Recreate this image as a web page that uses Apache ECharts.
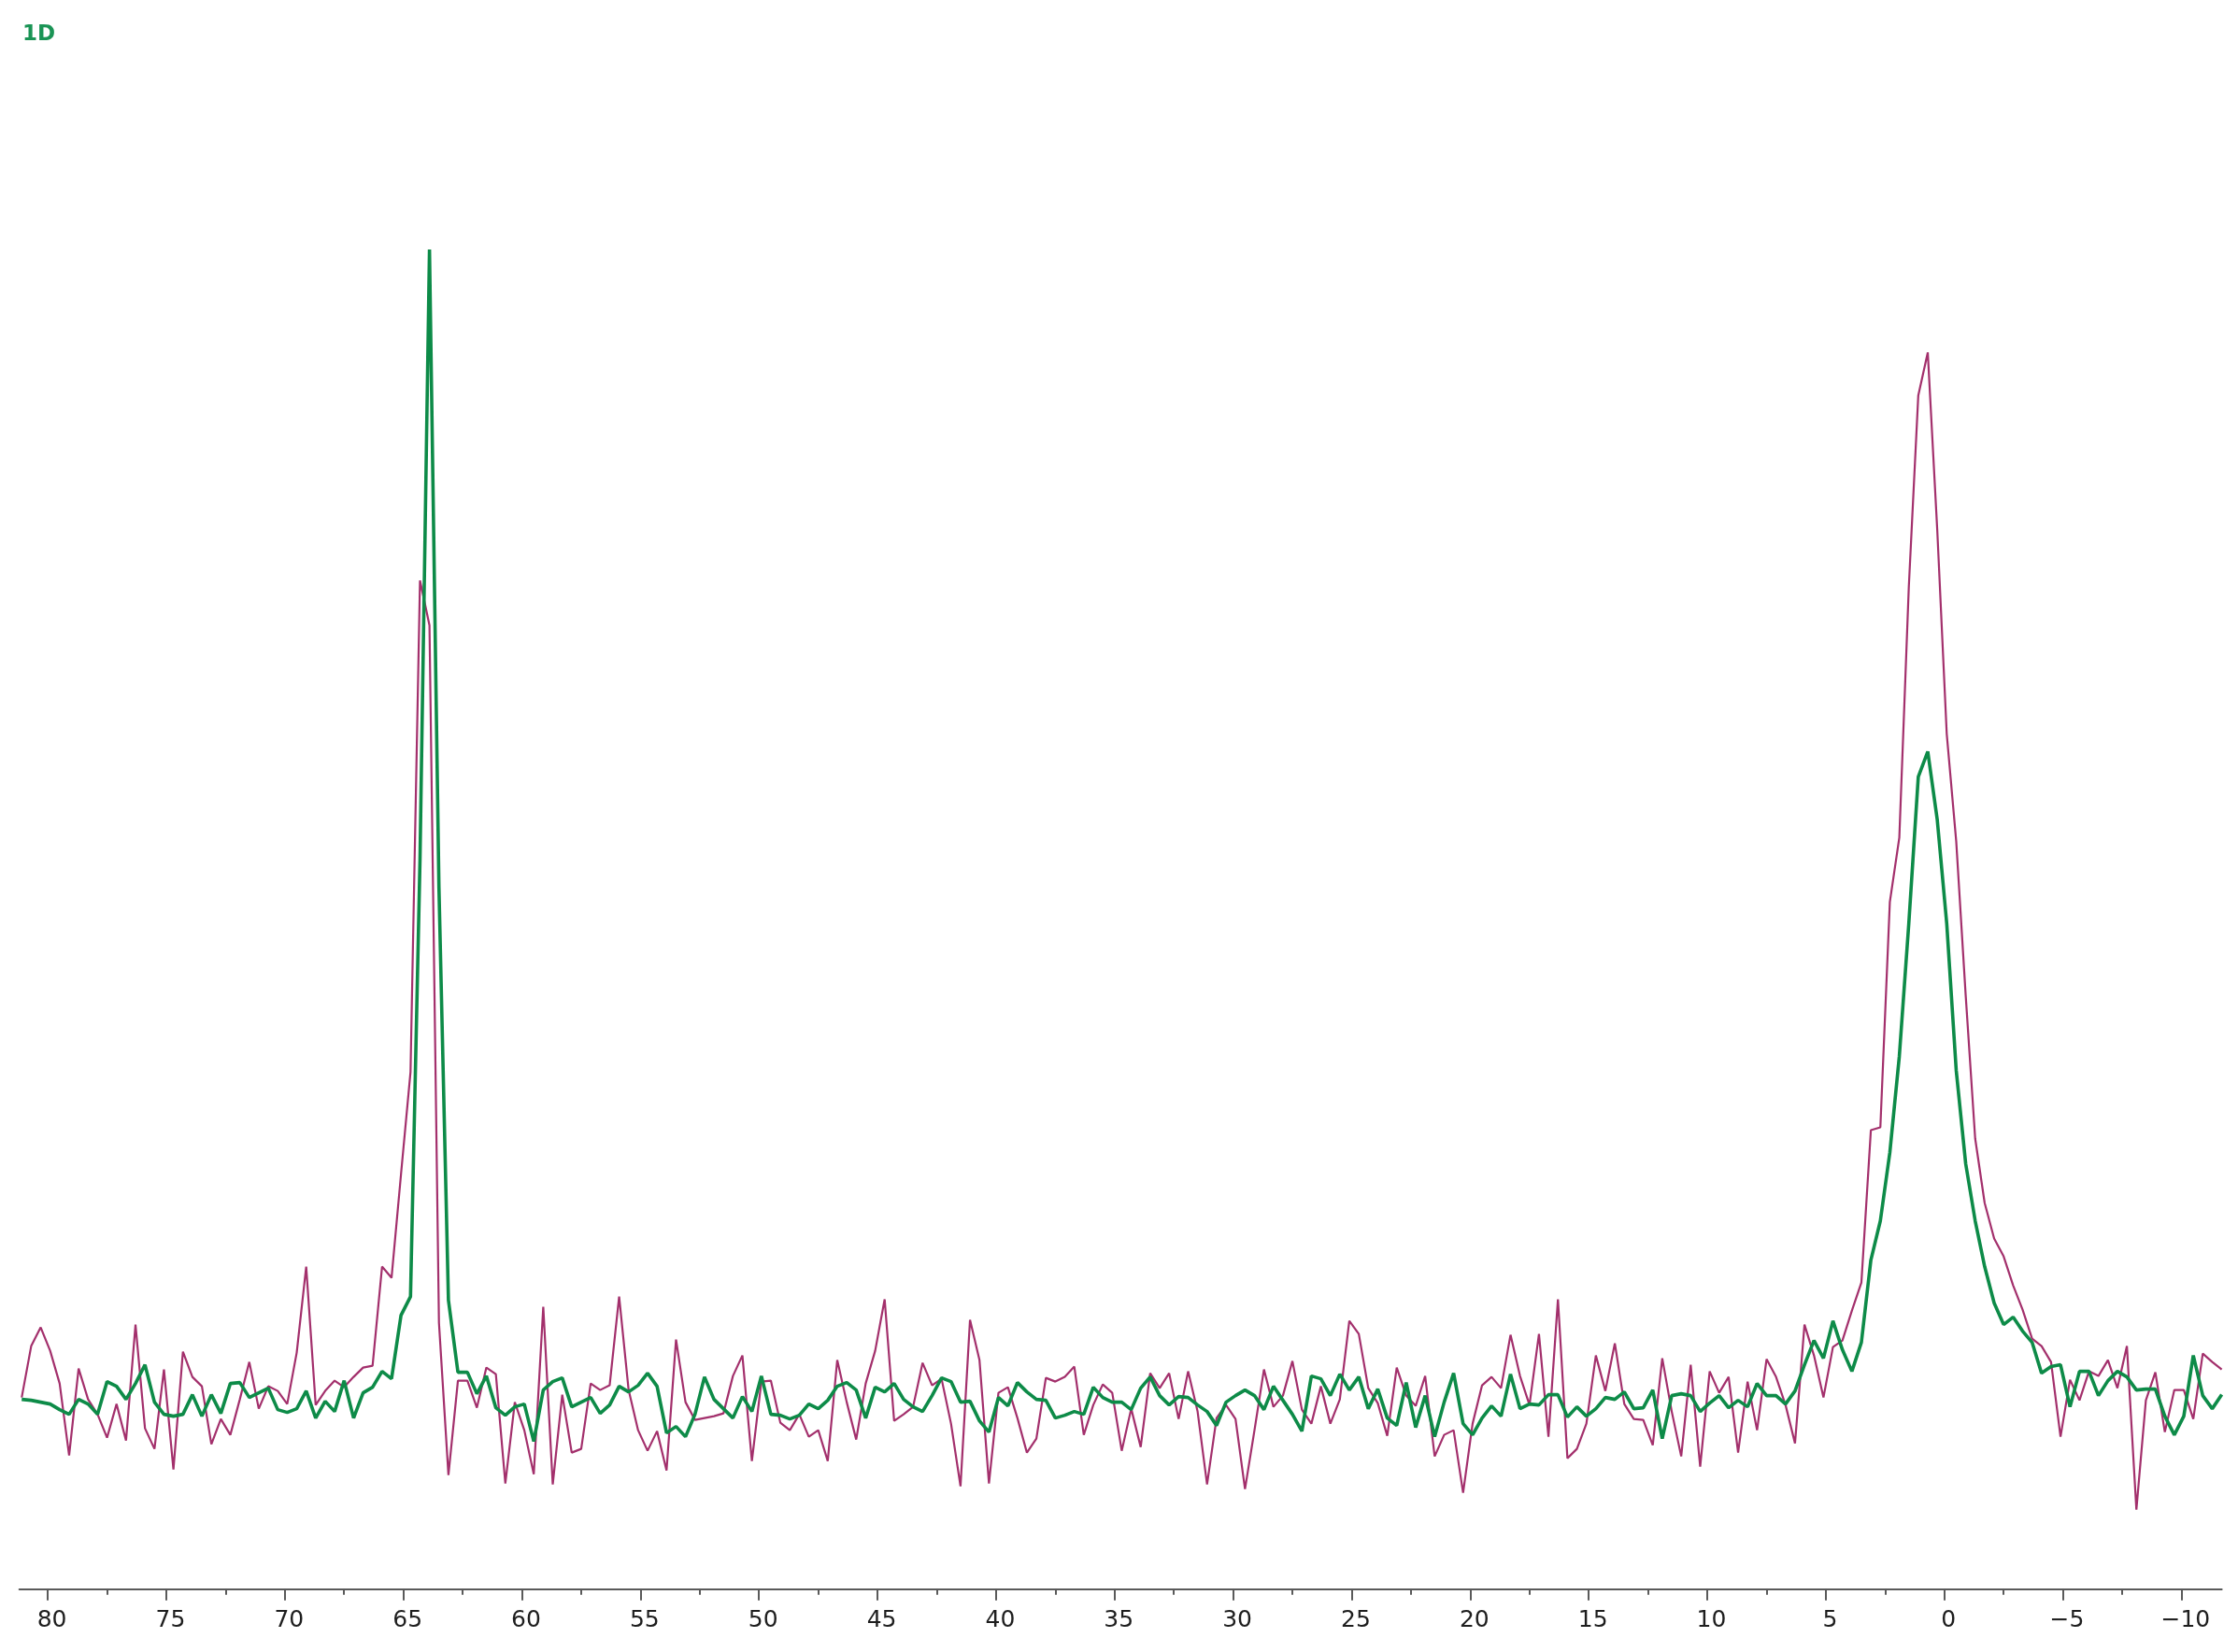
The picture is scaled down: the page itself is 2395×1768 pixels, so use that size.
<!DOCTYPE html>
<html>
<head>
<meta charset="utf-8">
<script src="https://cdn.jsdelivr.net/npm/echarts@6/dist/echarts.min.js"></script>
<style>
html,body{margin:0;padding:0;background:#fff;}
#chart{width:2395px;height:1768px;}
</style>
</head>
<body>
<div id="chart"></div>
<script>
// Spectrum sampling (ppm): first point and spacing
const START_PPM = 81.1;
const STEP_PPM = 0.4;

// Chemical-shift tick labels
const tickLabels = [80, 75, 70, 65, 60, 55, 50, 45, 40, 35, 30, 25, 20, 15, 10, 5, 0, -5, -10];

const titleText = '1D';

// Magenta trace intensities (arbitrary units)
const magentaValues = [
  20.5, 26.0, 28.0, 25.5, 22.0, 14.3, 23.6, 20.3, 18.7, 16.2,
  19.8, 15.9, 28.3, 17.2, 15.0, 23.5, 12.8, 25.4, 22.7, 21.7,
  15.5, 18.2, 16.5, 20.3, 24.3, 19.3, 21.7, 21.2, 19.8, 25.3,
  34.5, 19.7, 21.2, 22.3, 21.6, 22.7, 23.7, 23.9, 34.5, 33.3,
  44.4, 55.3, 107.9, 103.1, 28.5, 12.2, 22.3, 22.3, 19.4, 23.7,
  23.0, 11.3, 20.0, 17.0, 12.3, 30.2, 11.2, 20.8, 14.6, 15.0,
  22.0, 21.3, 21.8, 31.3, 21.3, 17.0, 14.8, 16.9, 12.7, 26.7,
  20.0, 18.1, 18.3, 18.5, 18.8, 22.8, 25.0, 13.7, 22.2, 22.3,
  17.8, 17.0, 18.7, 16.3, 17.0, 13.7, 24.5, 20.0, 16.0, 22.0,
  25.5, 31.0, 18.0, 18.7, 19.5, 24.2, 21.8, 22.5, 17.7, 11.0,
  28.8, 24.5, 11.3, 21.0, 21.6, 18.3, 14.6, 16.1, 22.6, 22.2,
  22.7, 23.8, 16.5, 19.7, 21.9, 21.0, 14.8, 19.3, 15.2, 23.1,
  21.5, 23.1, 18.2, 23.3, 19.0, 11.2, 18.3, 19.7, 18.2, 10.7,
  17.0, 23.5, 19.5, 20.7, 24.4, 19.2, 17.7, 21.7, 17.7, 20.3,
  28.7, 27.3, 21.5, 19.9, 16.4, 23.7, 20.7, 19.6, 22.8, 14.2,
  16.5, 17.0, 10.3, 17.7, 21.8, 22.7, 21.5, 27.2, 22.8, 19.7,
  27.3, 16.3, 31.0, 14.0, 15.0, 17.7, 25.0, 21.2, 26.3, 19.8,
  18.2, 18.1, 15.4, 24.7, 19.0, 14.2, 24.0, 13.1, 23.3, 21.0,
  22.7, 14.6, 22.2, 17.0, 24.6, 22.7, 19.7, 15.6, 28.3, 25.0,
  20.5, 25.9, 26.6, 29.8, 32.8, 49.1, 49.4, 73.5, 80.4, 107.2,
  127.7, 132.3, 113.3, 91.5, 80.0, 63.5, 48.2, 41.3, 37.5, 35.6,
  32.5, 29.9, 26.8, 26.0, 24.3, 16.3, 22.4, 20.2, 23.3, 22.8,
  24.5, 21.5, 26.0, 8.5, 20.2, 23.2, 16.8, 21.3, 21.3, 18.2,
  25.2, 24.3, 23.5
];

// Green trace intensities (arbitrary units)
const greenValues = [
  20.3, 20.2, 20.0, 19.8, 19.2, 18.7, 20.3, 19.8, 18.7, 22.2,
  21.7, 20.3, 22.0, 24.0, 20.0, 18.7, 18.5, 18.7, 20.8, 18.5,
  20.8, 18.8, 22.0, 22.1, 20.5, 21.0, 21.5, 19.2, 18.9, 19.3,
  21.2, 18.3, 20.1, 19.0, 22.3, 18.3, 21.0, 21.6, 23.3, 22.5,
  29.3, 31.3, 78.0, 143.3, 75.0, 30.9, 23.2, 23.2, 20.9, 22.8,
  19.4, 18.6, 19.5, 19.8, 15.8, 21.3, 22.2, 22.6, 19.5, 20.0,
  20.5, 18.8, 19.7, 21.7, 21.1, 21.8, 23.1, 21.7, 16.7, 17.4,
  16.3, 18.7, 22.7, 20.3, 19.3, 18.3, 20.6, 19.0, 22.8, 18.7,
  18.6, 18.2, 18.6, 19.8, 19.3, 20.2, 21.7, 22.1, 21.3, 18.3,
  21.6, 21.1, 22.0, 20.3, 19.5, 19.0, 20.7, 22.6, 22.2, 20.0,
  20.1, 18.0, 16.8, 20.5, 19.6, 22.1, 21.1, 20.3, 20.2, 18.3,
  18.6, 19.0, 18.7, 21.6, 20.5, 20.0, 20.0, 19.2, 21.5, 22.7,
  20.7, 19.7, 20.6, 20.5, 19.7, 19.0, 17.5, 20.0, 20.7, 21.3,
  20.7, 19.2, 21.7, 20.2, 18.7, 16.9, 22.8, 22.5, 20.7, 23.0,
  21.3, 22.7, 19.3, 21.4, 18.3, 17.5, 22.1, 17.3, 20.7, 16.3,
  20.0, 23.1, 17.7, 16.5, 18.3, 19.6, 18.5, 23.0, 19.3, 19.8,
  19.7, 20.8, 20.8, 18.4, 19.5, 18.5, 19.3, 20.5, 20.3, 21.1,
  19.3, 19.4, 21.3, 16.1, 20.7, 20.9, 20.7, 19.0, 19.9, 20.7,
  19.4, 20.2, 19.5, 22.0, 20.7, 20.7, 19.8, 21.2, 24.0, 26.6,
  24.7, 28.7, 25.6, 23.3, 26.4, 35.2, 39.4, 46.7, 57.0, 71.2,
  86.9, 89.6, 82.3, 71.2, 55.5, 45.5, 39.4, 34.5, 30.6, 28.3,
  29.1, 27.6, 26.4, 23.1, 23.8, 24.0, 19.5, 23.3, 23.3, 20.7,
  22.3, 23.3, 22.7, 21.3, 21.4, 21.4, 18.5, 16.5, 18.5, 25.0,
  20.7, 19.3, 20.8
];

function toPairs(values) {
  return values.map((v, i) => [+(START_PPM - STEP_PPM * i).toFixed(2), v]);
}

const chart = echarts.init(document.getElementById('chart'), null, { renderer: 'canvas' });

const axisColor = '#5a5a5a';
const FONT = '"DejaVu Sans", Verdana, sans-serif';

const option = {
  animation: false,
  backgroundColor: '#ffffff',
  title: {
    text: titleText,
    left: 24,
    top: 26,
    padding: 0,
    textStyle: { color: '#1a9455', fontSize: 23, fontWeight: 'bold', fontFamily: FONT }
  },
  grid: [
    { left: 20.7, right: 17.4, top: 0, bottom: 67.3, containLabel: false },
    { left: 51.1, right: 60.6, top: 0, bottom: 67.3, containLabel: false }
  ],
  xAxis: [
    {
      type: 'value', gridIndex: 0, inverse: true,
      min: -11.7, max: 81.2,
      axisLine: { show: true, onZero: false, lineStyle: { color: axisColor, width: 2 } },
      axisTick: { show: false }, axisLabel: { show: false }, splitLine: { show: false }
    },
    {
      type: 'value', gridIndex: 1, inverse: true,
      min: tickLabels[tickLabels.length - 1], max: tickLabels[0], interval: 5,
      axisLine: { show: false, onZero: false },
      axisTick: { show: true, length: 12, lineStyle: { color: axisColor, width: 2 } },
      minorTick: { show: true, splitNumber: 2, length: 6, lineStyle: { color: axisColor, width: 2 } },
      axisLabel: {
        show: true, margin: 21, color: '#1e1e1e', fontSize: 25, fontFamily: FONT,
        padding: [0, 0, 0, 9],
        formatter: v => (tickLabels.includes(v) ? String(v).replace('-', '\u2212') : '')
      },
      splitLine: { show: false }
    }
  ],
  yAxis: [
    { type: 'value', gridIndex: 0, min: 0, max: 170, show: false },
    { type: 'value', gridIndex: 1, min: 0, max: 170, show: false }
  ],
  series: [
    {
      name: 'magenta', type: 'line', xAxisIndex: 0, yAxisIndex: 0,
      data: toPairs(magentaValues), showSymbol: false, symbol: 'none',
      lineStyle: { color: '#a3306c', width: 2.2 }, z: 2
    },
    {
      name: 'green', type: 'line', xAxisIndex: 0, yAxisIndex: 0,
      data: toPairs(greenValues), showSymbol: false, symbol: 'none',
      lineStyle: { color: '#0d8b48', width: 3.6 }, z: 3
    }
  ]
};

chart.setOption(option);
</script>
</body>
</html>
